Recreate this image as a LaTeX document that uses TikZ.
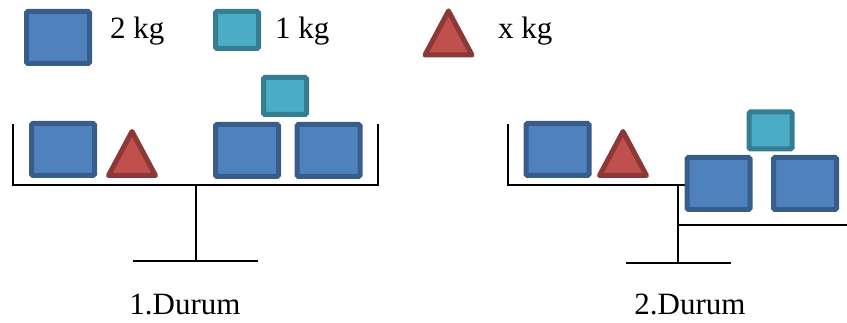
\documentclass[tikz,border=0pt]{standalone}
\usepackage{fontspec}
\setmainfont{Liberation Serif}
\definecolor{bigfill}{HTML}{4F81BD}
\definecolor{bigline}{HTML}{385D8A}
\definecolor{smallfill}{HTML}{4BACC6}
\definecolor{smallline}{HTML}{357D91}
\definecolor{xfill}{HTML}{C0504D}
\definecolor{xline}{HTML}{8C3836}
\tikzset{
  bigbox/.style={draw=bigline, fill=bigfill, line width=5pt, rounded corners=1.5pt,
    minimum width=63pt, minimum height=52pt, inner sep=0pt, outer sep=0pt},
  smallbox/.style={draw=smallline, fill=smallfill, line width=5pt, rounded corners=1.5pt,
    minimum width=43pt, minimum height=37pt, inner sep=0pt, outer sep=0pt},
  xweight/.style={draw=xline, fill=xfill, line width=5pt, line join=round},
  beam/.style={line width=2pt, black},
  label/.style={inner sep=0pt, font=\fontsize{31}{36}\selectfont},
}
\newcommand{\xtri}[1]{%
  \draw[xweight] ($(#1)+(-23.5,22)$) -- ($(#1)+(23.5,22)$) -- ($(#1)+(0,-22)$) -- cycle;}
\usetikzlibrary{calc}
\begin{document}
\begin{tikzpicture}[x=1pt, y=-1pt]
\useasboundingbox (0,0) rectangle (847,323);

% legend
\node[bigbox] (lg2) at (58,37.5) {};
\node[label, anchor=base west] (t2) at (110,39) {2 kg};
\node[smallbox] (lg1) at (237,30) {};
\node[label, anchor=base west] (t1) at (275,39) {1 kg};
\coordinate (lgx) at (448.5,33);
\xtri{lgx}
\node[label, anchor=base west] (tx) at (498,39) {x kg};

% first balance: level beam
\coordinate (a1) at (13,124);
\coordinate (a2) at (13,185);
\coordinate (a3) at (378,185);
\coordinate (a4) at (378,124);
\coordinate (as) at (196,185);
\coordinate (ab) at (196,262);
\coordinate (abl) at (133,261);
\coordinate (abr) at (258,261);
\draw[beam] (a1) -- (a2) -- (a3) -- (a4);
\draw[beam] (as) -- (ab);
\draw[beam] (abl) -- (abr);
\node[bigbox] (b11) at (63,149.5) {};
\coordinate (x1) at (132,153.5);
\xtri{x1}
\node[bigbox] (b12) at (247,150.5) {};
\node[bigbox] (b13) at (328.5,150.5) {};
\node[smallbox] (s1) at (285,96) {};
\node[label, anchor=base] (d1) at (185,315) {1.Durum};

% second balance: right side lower
\coordinate (c1) at (508,124);
\coordinate (c2) at (508,185);
\coordinate (c3) at (685,185);
\coordinate (cs) at (678,185);
\coordinate (cb) at (678,263);
\coordinate (cbl) at (626,263);
\coordinate (cbr) at (731,263);
\coordinate (cr1) at (678,225);
\coordinate (cr2) at (847,225);
\draw[beam] (c1) -- (c2) -- (c3);
\draw[beam] (cs) -- (cb);
\draw[beam] (cbl) -- (cbr);
\draw[beam] (cr1) -- (cr2);
\node[bigbox] (b21) at (557.5,149.5) {};
\coordinate (x2) at (623,153.5);
\xtri{x2}
\node[bigbox] (b22) at (718.5,183.5) {};
\node[bigbox] (b23) at (805,183.5) {};
\node[smallbox] (s2) at (770.5,130.5) {};
\node[label, anchor=base] (d2) at (690,315) {2.Durum};
\end{tikzpicture}
\end{document}
